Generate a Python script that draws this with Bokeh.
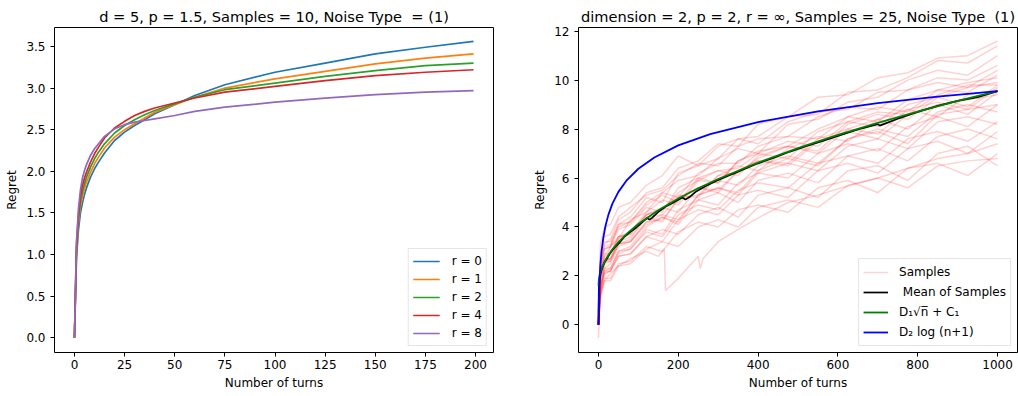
from bokeh.plotting import figure
from bokeh.layouts import row
from bokeh.models import Range1d, FixedTicker, NumeralTickFormatter, Legend, LegendItem
from bokeh.embed import file_html
from bokeh.resources import INLINE

# ---------------- Left chart data ----------------
left_title = "d = 5, p = 1.5, Samples = 10, Noise Type\u00a0 = (1)"
turns_left = [0, 1, 2, 3, 4, 5, 6, 8, 10, 12, 15, 20, 25, 30, 35, 40, 50, 60, 75, 100, 125, 150, 175, 199]
regret_r0 = [0, 0.95, 1.30, 1.50, 1.62, 1.72, 1.80, 1.93, 2.03, 2.11, 2.22, 2.37, 2.47, 2.55, 2.62, 2.69, 2.80, 2.91, 3.04, 3.19, 3.30, 3.41, 3.49, 3.56]
regret_r1 = [0, 1.00, 1.38, 1.58, 1.70, 1.79, 1.87, 1.99, 2.09, 2.17, 2.28, 2.41, 2.50, 2.57, 2.64, 2.71, 2.80, 2.89, 3.00, 3.11, 3.20, 3.29, 3.36, 3.41]
regret_r2 = [0, 1.05, 1.43, 1.64, 1.76, 1.85, 1.93, 2.05, 2.15, 2.23, 2.33, 2.46, 2.55, 2.62, 2.68, 2.73, 2.81, 2.89, 2.98, 3.06, 3.14, 3.21, 3.27, 3.30]
regret_r4 = [0, 1.10, 1.48, 1.70, 1.83, 1.92, 1.99, 2.11, 2.21, 2.29, 2.40, 2.52, 2.60, 2.67, 2.72, 2.76, 2.82, 2.88, 2.95, 3.02, 3.09, 3.15, 3.19, 3.22]
regret_r8 = [0, 1.15, 1.55, 1.78, 1.92, 2.01, 2.08, 2.19, 2.27, 2.33, 2.42, 2.51, 2.56, 2.59, 2.61, 2.63, 2.67, 2.72, 2.77, 2.83, 2.88, 2.92, 2.95, 2.97]
left_labels = ["r = 0", "r = 1", "r = 2", "r = 4", "r = 8"]
left_xticks = [0, 25, 50, 75, 100, 125, 150, 175, 200]
left_yticks = [0.0, 0.5, 1.0, 1.5, 2.0, 2.5, 3.0, 3.5]

# ---------------- Right chart data ----------------
right_title = "dimension = 2, p = 2, r = \u221e, Samples = 25, Noise Type\u00a0 (1)"
turns_samples = [0, 5, 15, 30, 50, 80, 120, 160, 200, 250, 300, 350, 400, 475, 550, 625, 700, 775, 850, 925, 1000]
samples = [
    [0, 2.5, 3.3, 3.5, 4.3, 4.6, 5.4, 5.6, 6.4, 6.7, 7.4, 7.3, 8.2, 8.5, 9.3, 9.4, 10.1, 10.3, 10.9, 11.0, 11.6],
    [0, 2.3, 3.1, 3.2, 4.1, 4.4, 5.2, 5.0, 6.2, 6.5, 6.8, 7.6, 7.7, 8.5, 8.6, 9.5, 9.6, 10.1, 10.8, 10.7, 11.4],
    [0, 3.3, 4.0, 4.1, 4.8, 5.0, 5.7, 6.1, 6.9, 6.5, 7.3, 7.6, 7.4, 8.3, 8.7, 8.8, 9.5, 9.6, 10.1, 10.0, 10.6],
    [0, 2.0, 2.8, 3.2, 3.5, 4.3, 4.6, 5.4, 5.9, 6.1, 6.8, 7.2, 7.0, 8.2, 8.4, 9.1, 9.3, 10.0, 10.4, 10.2, 11.0],
    [0, 2.9, 3.6, 3.7, 4.4, 4.8, 5.3, 5.5, 6.1, 6.6, 6.5, 7.3, 7.6, 7.7, 8.5, 8.9, 8.8, 9.6, 9.9, 9.7, 10.4],
    [0, 1.8, 2.6, 2.7, 3.5, 3.8, 4.5, 4.7, 5.4, 5.9, 5.8, 6.7, 7.1, 7.3, 8.0, 8.5, 8.3, 9.2, 9.6, 9.5, 10.2],
    [0, 2.5, 3.2, 3.3, 4.0, 4.2, 5.0, 5.4, 5.2, 6.2, 6.6, 6.6, 7.3, 7.7, 7.6, 8.5, 8.9, 8.7, 9.6, 9.9, 10.1],
    [0, 2.1, 2.4, 3.2, 3.6, 3.8, 4.6, 5.1, 4.9, 5.9, 6.3, 6.4, 7.0, 7.5, 7.3, 8.3, 8.7, 8.6, 9.4, 9.8, 9.8],
    [0, 1.6, 2.5, 2.6, 3.3, 3.5, 4.4, 4.5, 5.2, 5.3, 6.1, 6.2, 6.8, 7.3, 7.1, 8.2, 8.6, 8.4, 9.3, 9.7, 9.9],
    [0, 2.4, 3.1, 3.2, 3.9, 4.1, 4.8, 4.6, 5.6, 6.0, 5.8, 6.7, 7.0, 6.8, 7.9, 8.3, 8.1, 9.0, 9.3, 8.9, 9.8],
    [0, 1.5, 2.3, 2.5, 3.2, 3.4, 4.2, 4.3, 5.1, 5.6, 5.4, 6.3, 6.7, 6.6, 7.6, 8.0, 7.8, 8.8, 9.1, 8.8, 9.7],
    [0, 2.1, 2.8, 2.9, 3.6, 3.7, 4.5, 4.7, 5.3, 5.2, 6.1, 6.5, 6.3, 7.2, 7.7, 7.5, 8.4, 8.8, 8.5, 9.4, 9.6],
    [0, 1.9, 2.6, 2.7, 3.4, 3.6, 4.4, 4.2, 5.2, 5.6, 5.5, 6.3, 6.7, 6.5, 7.5, 7.9, 7.6, 8.6, 9.0, 8.6, 9.5],
    [0, 2.7, 3.4, 3.4, 4.1, 4.2, 4.9, 5.3, 5.0, 6.0, 6.3, 6.1, 6.9, 7.3, 7.0, 8.0, 8.4, 8.0, 9.0, 9.2, 9.4],
    [0, 1.4, 2.2, 2.3, 3.0, 3.2, 4.0, 4.4, 4.2, 5.3, 5.6, 5.4, 6.3, 6.8, 6.5, 7.6, 8.0, 7.7, 8.7, 9.0, 8.7],
    [0, 2.2, 2.9, 2.9, 3.6, 3.7, 4.5, 4.8, 4.6, 5.6, 5.9, 5.7, 6.5, 6.9, 6.6, 7.6, 7.9, 7.4, 8.6, 8.8, 9.0],
    [0, 1.3, 2.1, 2.2, 2.9, 3.1, 3.9, 3.7, 4.7, 5.1, 4.9, 5.8, 6.2, 6.0, 7.0, 7.4, 7.1, 8.1, 8.5, 8.1, 9.0],
    [0, 1.9, 2.6, 2.6, 3.3, 3.4, 4.2, 4.5, 4.3, 5.3, 5.6, 5.3, 6.2, 6.6, 6.3, 7.3, 7.6, 7.2, 8.3, 8.5, 8.2],
    [0, 1.5, 2.3, 2.3, 3.0, 3.1, 3.8, 3.6, 4.5, 4.9, 4.7, 5.5, 5.8, 5.6, 6.6, 6.9, 6.6, 7.6, 7.9, 7.5, 8.3],
    [0, 2.1, 2.7, 2.7, 3.3, 3.4, 4.1, 4.4, 4.1, 5.1, 5.4, 5.0, 5.9, 6.2, 5.8, 6.9, 7.2, 6.7, 7.7, 8.0, 7.6],
    [0, 1.4, 2.1, 2.2, 2.8, 2.9, 3.6, 3.4, 4.3, 4.7, 4.5, 5.3, 5.5, 5.2, 6.3, 6.6, 6.2, 7.2, 7.5, 7.0, 7.9],
    [0, 1.6, 2.2, 2.2, 2.8, 2.9, 3.6, 3.9, 3.7, 4.5, 4.8, 4.4, 5.3, 5.6, 5.2, 6.3, 6.5, 5.9, 7.0, 7.3, 6.5],
    [0, 1.2, 1.9, 1.9, 2.5, 2.6, 3.2, 3.0, 3.8, 4.2, 4.0, 4.7, 4.9, 4.6, 5.6, 5.9, 5.4, 6.4, 6.6, 6.1, 7.0],
    [-0.55, 1.1, 1.8, 1.8, 2.4, 2.5, 3.1, 3.4, 3.2, 4.0, 4.3, 4.0, 4.8, 5.1, 4.8, 5.7, 6.0, 5.6, 6.5, 6.7, 6.8],
]
turns_outlier = [0, 5, 15, 30, 50, 80, 120, 150, 165, 168, 200, 250, 255, 262, 300, 350, 415, 475, 550, 609, 700, 775, 850, 925, 1000]
sample_outlier = [0, 1.3, 1.8, 2.1, 2.4, 2.7, 3.0, 2.8, 3.1, 1.4, 1.9, 2.8, 2.3, 2.7, 3.4, 3.9, 4.5, 5.0, 5.3, 5.6, 6.0, 6.4, 6.8, 7.0, 7.4]

turns_mean = [0, 1, 3, 6, 10, 15, 22, 30, 40, 52, 65, 80, 95, 110, 122, 128, 135, 150, 170, 190, 210, 218, 228, 245, 270,
              300, 330, 360, 400, 440, 480, 520, 560, 600, 650, 700, 705, 750, 800, 850, 900, 950, 1000]
mean_samples = [0, 1.5, 1.9, 2.15, 2.35, 2.55, 2.72, 2.95, 3.15, 3.35, 3.60, 3.80, 3.98, 4.20, 4.36, 4.30, 4.38, 4.62, 4.85,
                5.02, 5.20, 5.12, 5.22, 5.45, 5.68, 5.92, 6.12, 6.33, 6.60, 6.83, 7.08, 7.30, 7.50, 7.72, 7.98, 8.20, 8.14,
                8.42, 8.70, 8.95, 9.15, 9.30, 9.55]

turns_fit = [0, 1, 3, 6, 10, 20, 35, 50, 75, 100, 150, 200, 250, 300, 400, 500, 600, 700, 800, 900, 1000]
fit_sqrt = [1.60, 1.85, 2.04, 2.22, 2.40, 2.72, 3.09, 3.38, 3.78, 4.12, 4.68, 5.16, 5.58, 5.96, 6.63, 7.22, 7.76, 8.25, 8.71, 9.15, 9.55]

turns_log = [0, 1, 2, 3, 5, 8, 12, 18, 25, 35, 50, 70, 100, 140, 200, 280, 400, 550, 700, 850, 1000]
fit_log = [0, 0.958, 1.518, 1.916, 2.476, 3.037, 3.545, 4.069, 4.503, 4.952, 5.434, 5.891, 6.378, 6.839, 7.332, 7.794,
           8.288, 8.724, 9.058, 9.324, 9.548]

right_labels = ["Samples", "\u00a0Mean of Samples", "D\u2081\u221an\u0305 + C\u2081", "D\u2082 log (n+1)"]
right_xticks = [0, 200, 400, 600, 800, 1000]
right_yticks = [0, 2, 4, 6, 8, 10, 12]

# ---------------- styling ----------------
FONT = "DejaVu Sans"
TAB = ["#1f77b4", "#ff7f0e", "#2ca02c", "#d62728", "#9467bd"]


def style(p, xticks, yticks, yfmt=None):
    p.title.text_font = FONT
    p.title.text_font_size = "14.6px"
    p.title.text_font_style = "normal"
    p.title.align = "center"
    p.title.text_color = "#000000"
    p.title.standoff = 6
    p.xgrid.visible = False
    p.ygrid.visible = False
    p.outline_line_color = "#000000"
    p.outline_line_width = 1
    p.outline_line_alpha = 1
    p.background_fill_color = "white"
    p.border_fill_color = "white"
    for ax in (p.xaxis[0], p.yaxis[0]):
        ax.axis_line_color = None
        ax.major_tick_line_color = "#000000"
        ax.major_tick_out = 4
        ax.major_tick_in = 0
        ax.minor_tick_line_color = None
        ax.major_label_text_font = FONT
        ax.major_label_text_font_size = "12px"
        ax.major_label_text_color = "#000000"
        ax.axis_label_text_font = FONT
        ax.axis_label_text_font_size = "12px"
        ax.axis_label_text_font_style = "normal"
        ax.axis_label_text_color = "#000000"
    p.xaxis[0].ticker = FixedTicker(ticks=xticks)
    p.yaxis[0].ticker = FixedTicker(ticks=yticks)
    p.xaxis[0].major_label_standoff = 3
    p.xaxis[0].axis_label_standoff = 4
    p.yaxis[0].major_label_standoff = 5
    p.yaxis[0].axis_label_standoff = 4
    if yfmt:
        p.yaxis[0].formatter = NumeralTickFormatter(format=yfmt)
    p.xaxis[0].axis_label = "Number of turns"
    p.yaxis[0].axis_label = "Regret"


def style_legend(lg):
    lg.label_text_font = FONT
    lg.label_text_font_size = "12px"
    lg.label_text_color = "#000000"
    lg.border_line_color = "#cccccc"
    lg.border_line_width = 1
    lg.background_fill_alpha = 0.8
    lg.margin = 6


# ---------------- left figure ----------------
p1 = figure(width=508, height=396, output_backend="svg", toolbar_location=None,
            x_range=Range1d(-9.95, 208.95), y_range=Range1d(-0.1775, 3.7275),
            min_border_left=54, min_border_right=15, min_border_top=27, min_border_bottom=44,
            title=left_title)
style(p1, left_xticks, left_yticks, "0.0")
items = []
for ys, lab, col in zip([regret_r0, regret_r1, regret_r2, regret_r4, regret_r8], left_labels, TAB):
    r = p1.line(turns_left, ys, line_color=col, line_width=1.7)
    items.append(LegendItem(label=lab, renderers=[r]))
lg1 = Legend(items=items, location="bottom_right")
style_legend(lg1)
lg1.glyph_width = 27
lg1.glyph_height = 16
lg1.label_height = 16
lg1.spacing = 2
lg1.padding = 4
lg1.label_standoff = 12
p1.add_layout(lg1)

# ---------------- right figure ----------------
p2 = figure(width=510, height=396, output_backend="svg", toolbar_location=None,
            x_range=Range1d(-50, 1050), y_range=Range1d(-1.13, 12.15),
            min_border_left=70, min_border_right=1, min_border_top=27, min_border_bottom=44,
            title=right_title)
style(p2, right_xticks, right_yticks)
sample_renderers = []
for ys in samples:
    sample_renderers.append(p2.line(turns_samples, ys, line_color="red", line_alpha=0.18, line_width=1.5))
sample_renderers.append(p2.line(turns_outlier, sample_outlier, line_color="red", line_alpha=0.18, line_width=1.5))
r_mean = p2.line(turns_mean, mean_samples, line_color="black", line_width=1.7)
r_sqrt = p2.line(turns_fit, fit_sqrt, line_color="#008000", line_width=1.8)
r_log = p2.line(turns_log, fit_log, line_color="#0000ff", line_width=1.8)
lg2 = Legend(items=[LegendItem(label=right_labels[0], renderers=[sample_renderers[0]]),
                    LegendItem(label=right_labels[1], renderers=[r_mean]),
                    LegendItem(label=right_labels[2], renderers=[r_sqrt]),
                    LegendItem(label=right_labels[3], renderers=[r_log])],
             location="bottom_right")
style_legend(lg2)
lg2.glyph_width = 25
lg2.glyph_height = 18
lg2.label_height = 18
lg2.spacing = 2
lg2.padding = 4
lg2.label_standoff = 11
p2.add_layout(lg2)

layout = row(p1, p2)
open("out.html", "w").write(file_html(layout, INLINE))
